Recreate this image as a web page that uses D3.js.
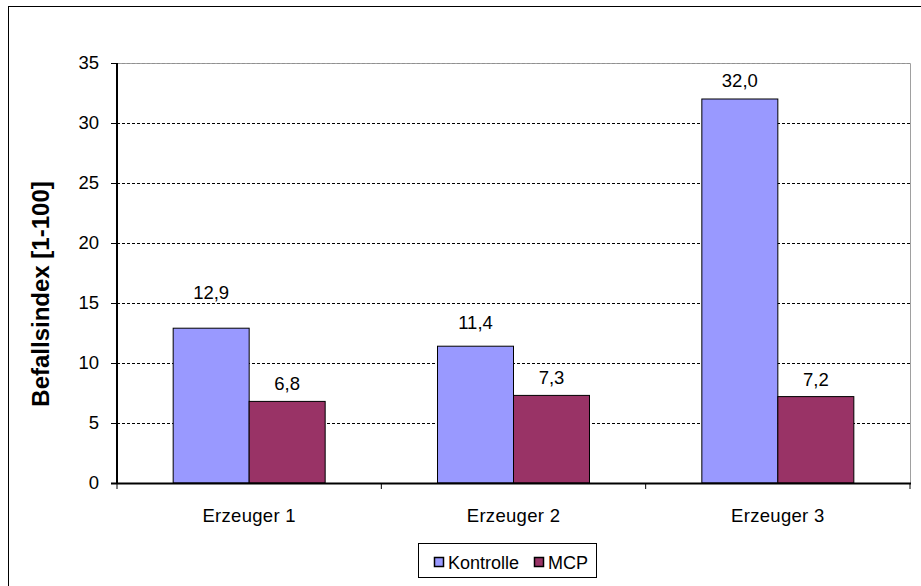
<!DOCTYPE html>
<html>
<head>
<meta charset="utf-8">
<script src="https://cdn.jsdelivr.net/npm/d3@7"></script>
<style>
  html, body { margin: 0; padding: 0; background: #fff; }
  svg { display: block; font-family: "Liberation Sans", Arial, sans-serif; }
</style>
</head>
<body>
<svg id="chart" width="921" height="586"></svg>
<script>
// Befallsindex per Erzeuger, Kontrolle vs. MCP
const categories = ["Erzeuger 1", "Erzeuger 2", "Erzeuger 3"];
const seriesNames = ["Kontrolle", "MCP"];
const kontrolle = [12.9, 11.4, 32.0];
const mcp = [6.8, 7.3, 7.2];
const yTicks = [0, 5, 10, 15, 20, 25, 30, 35];
const yTitle = "Befallsindex [1-100]";

const values = [kontrolle, mcp];
const colors = ["#9999FF", "#993366"];
// extra lift (px) for individual value labels, per series then per category
const labelLift = [[18, 6, 1], [0, 0, 0]];

const svg = d3.select("#chart");
const plotLeft = 117, plotRight = 910, plotTop = 63, plotBottom = 483;

// outer chart frame
svg.append("rect").attr("x", 8.5).attr("y", 6.5).attr("width", 930).attr("height", 600)
  .attr("fill", "none").attr("stroke", "#000").attr("stroke-width", 1);

const y = d3.scaleLinear().domain([0, 35]).range([plotBottom, plotTop]);
const x0 = d3.scaleBand().domain(categories).range([plotLeft, plotRight]).padding(0);
const gap = x0.bandwidth() * 0.425;
const x1 = d3.scaleBand().domain(seriesNames).range([gap / 2, x0.bandwidth() - gap / 2]).padding(0);

// plot area border (top and right)
svg.append("path")
  .attr("d", `M${plotLeft},${plotTop + 0.5}H${plotRight + 0.5}V${plotBottom}`)
  .attr("fill", "none").attr("stroke", "#a0a0a0").attr("stroke-width", 1);

// gridlines
svg.append("g").selectAll("line")
  .data(yTicks.filter(t => t > 0))
  .join("line")
  .attr("x1", plotLeft).attr("x2", plotRight)
  .attr("y1", d => Math.round(y(d)) + 0.5).attr("y2", d => Math.round(y(d)) + 0.5)
  .attr("stroke", d => d === 35 ? "#909090" : "#000")
  .attr("stroke-width", 1)
  .attr("stroke-dasharray", "3,2");

// bars
const groups = svg.append("g").selectAll("g")
  .data(seriesNames)
  .join("g")
  .attr("fill", (d, i) => colors[i]);

groups.each(function (s, si) {
  d3.select(this).selectAll("rect")
    .data(categories)
    .join("rect")
    .attr("x", c => x0(c) + x1(s))
    .attr("y", (c, ci) => y(values[si][ci]))
    .attr("width", x1.bandwidth())
    .attr("height", (c, ci) => plotBottom - y(values[si][ci]))
    .attr("stroke", "#000")
    .attr("stroke-width", 1);
});

// value labels
groups.each(function (s, si) {
  svg.append("g").selectAll("text")
    .data(categories)
    .join("text")
    .attr("x", c => x0(c) + x1(s) + x1.bandwidth() / 2)
    .attr("y", (c, ci) => y(values[si][ci]) - 11 - labelLift[si][ci])
    .attr("text-anchor", "middle")
    .attr("font-size", 18.5)
    .attr("fill", "#000")
    .text((c, ci) => d3.format(".1f")(values[si][ci]).replace(".", ","));
});

// y axis
const yAxis = svg.append("g")
  .attr("transform", `translate(${plotLeft},0)`)
  .call(d3.axisLeft(y).tickValues(yTicks).tickSize(6).tickPadding(12).tickFormat(d3.format("d")));
yAxis.select(".domain").attr("stroke", "#000").attr("stroke-width", 2)
  .attr("d", `M0,${plotTop}V${plotBottom}`);
yAxis.selectAll(".tick line").attr("stroke", "#000").attr("stroke-width", 1);
yAxis.selectAll(".tick text").attr("font-size", 18.5).attr("fill", "#000")
  .attr("font-family", "Liberation Sans, Arial, sans-serif");

// x axis with ticks at category boundaries
const xAxis = svg.append("g").attr("transform", `translate(0,${plotBottom})`);
xAxis.append("line").attr("x1", plotLeft - 6).attr("x2", plotRight + 1)
  .attr("y1", 0.5).attr("y2", 0.5).attr("stroke", "#000").attr("stroke-width", 2);
const bounds = categories.map(c => x0(c)).concat([x0(categories[categories.length - 1]) + x0.bandwidth()]);
xAxis.selectAll("line.tk").data(bounds).join("line").attr("class", "tk")
  .attr("x1", d => d).attr("x2", d => d).attr("y1", 0).attr("y2", 6)
  .attr("stroke", "#000").attr("stroke-width", 1);
xAxis.selectAll("text").data(categories).join("text")
  .attr("x", c => x0(c) + x0.bandwidth() / 2)
  .attr("y", 39)
  .attr("text-anchor", "middle")
  .attr("font-size", 18.5)
  .attr("letter-spacing", 0.3)
  .attr("fill", "#000")
  .text(c => c);

// y axis title
svg.append("text")
  .attr("transform", "translate(49,294) rotate(-90)")
  .attr("text-anchor", "middle")
  .attr("font-size", 24)
  .attr("font-weight", "bold")
  .attr("fill", "#000")
  .text(yTitle);

// legend
const legend = svg.append("g");
legend.append("rect").attr("x", 418.5).attr("y", 543.5).attr("width", 178).attr("height", 34)
  .attr("fill", "#fff").attr("stroke", "#000").attr("stroke-width", 1);
const legendX = [434, 534];
const items = legend.selectAll("g.item").data(seriesNames).join("g").attr("class", "item")
  .attr("transform", (d, i) => `translate(${legendX[i]},557)`);
items.append("rect").attr("x", 0.5).attr("y", 0.5).attr("width", 9).attr("height", 9)
  .attr("fill", (d, i) => colors[i]).attr("stroke", "#000").attr("stroke-width", 1.5);
items.append("text").attr("x", 14).attr("y", 12).attr("font-size", 18).attr("fill", "#000")
  .text(d => d);
</script>
</body>
</html>
